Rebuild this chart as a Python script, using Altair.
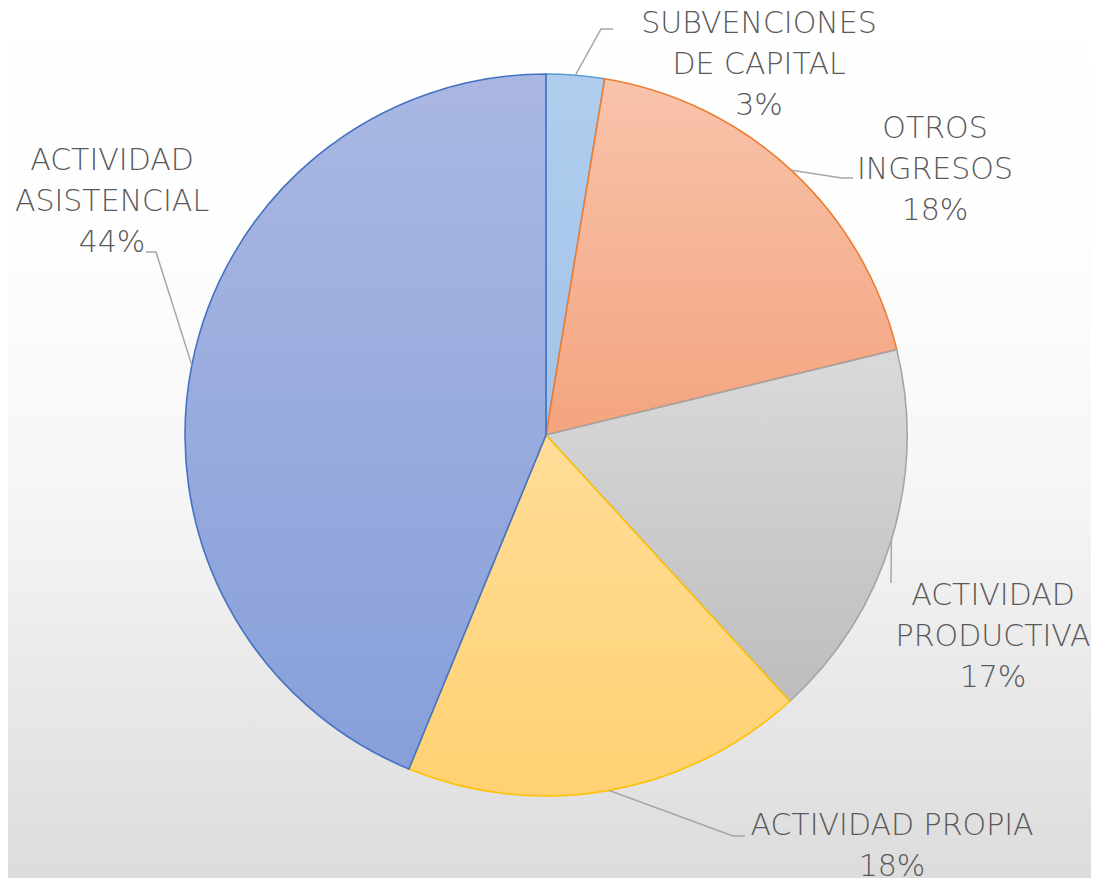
import math
import altair as alt
import pandas as pd

# ---- data ----
categories = ["SUBVENCIONES DE CAPITAL", "OTROS INGRESOS", "ACTIVIDAD PRODUCTIVA",
              "ACTIVIDAD PROPIA", "ACTIVIDAD ASISTENCIAL"]
display_names = ["SUBVENCIONES\nDE CAPITAL", "OTROS\nINGRESOS", "ACTIVIDAD\nPRODUCTIVA",
                 "ACTIVIDAD PROPIA", "ACTIVIDAD\nASISTENCIAL"]
values = [2.6, 18.6, 17.0, 18.0, 43.8]
pct_labels = ["3%", "18%", "17%", "18%", "44%"]

# ---- layout / styles ----
W, H = 1083, 870
OFF = 8  # page margin
CX, CY, R = 546 - OFF, 435 - OFF, 361

fills = [
    ("#B0CDEE", "#A3C3E8"),
    ("#F8C3AB", "#F4A47F"),
    ("#DADADA", "#BDBDBD"),
    ("#FFDD98", "#FFD172"),
    ("#AAB7E2", "#879FDA"),
]
strokes = ["#5B9BD5", "#ED7D31", "#A5A5A5", "#FFC000", "#4472C4"]

# label first-line centres and leader elbows (page coords)
label_pos = [(759, 24), (935, 129), (993, 596), (892, 826), (112, 161)]
leader_elbow = [[(601, 29), (613, 29)],
                [(842, 178), (853, 178)],
                [(891, 583), (891, 583)],
                [(733, 836), (745, 836)],
                [(156, 252), (146, 252)]]

total = sum(values)
start, acc = [], 0.0
for v in values:
    start.append(acc)
    acc += v
end = [s + v for s, v in zip(start, values)]

pie_df = pd.DataFrame({"cat": categories, "start": start, "end": end})

label_df = pd.DataFrame({
    "cat": categories,
    "text": [n + "\n" + p for n, p in zip(display_names, pct_labels)],
    "x": [p[0] - OFF for p in label_pos],
    "y": [p[1] - OFF for p in label_pos],
})

rows = []
for i, c in enumerate(categories):
    mid = (start[i] + values[i] / 2) / total * 2 * math.pi
    ax = CX + R * math.sin(mid)
    ay = CY - R * math.cos(mid)
    pts = [(ax, ay)] + [(px - OFF, py - OFF) for px, py in leader_elbow[i]]
    for k, (px, py) in enumerate(pts):
        rows.append({"cat": c, "ord": k, "x": px, "y": py})
leader_df = pd.DataFrame(rows)

def vgrad(stops):
    return {"gradient": "linear", "x1": 0, "y1": 0, "x2": 0, "y2": 1,
            "stops": [{"offset": o, "color": c} for o, c in stops]}

bg = alt.Chart(pd.DataFrame({"a": [0]})).mark_rect(
    fill=vgrad([(0, "#FFFFFF"), (0.25, "#FEFEFE"), (0.55, "#F6F6F6"), (1, "#DCDCDC")])
).encode(x=alt.value(0), x2=alt.value(W), y=alt.value(0), y2=alt.value(H))

layers = [bg]
for i, c in enumerate(categories):
    arc = alt.Chart(pie_df).transform_filter(
        alt.datum.cat == c
    ).mark_arc(
        fill=vgrad([(0, fills[i][0]), (1, fills[i][1])]),
        stroke=strokes[i], strokeWidth=1.6, outerRadius=R,
    ).encode(
        theta=alt.Theta("start:Q", scale=alt.Scale(domain=[0, total])),
        theta2="end:Q",
        x=alt.value(CX), y=alt.value(CY),
    )
    layers.append(arc)

leaders = alt.Chart(leader_df).mark_line(color="#A6A6A6", strokeWidth=1.5).encode(
    x=alt.X("x:Q", scale=None), y=alt.Y("y:Q", scale=None),
    detail="cat:N", order="ord:Q",
)
labels = alt.Chart(label_df).mark_text(
    font="DejaVu Sans", fontWeight=200, fontSize=30, color="#595959",
    lineBreak="\n", lineHeight=41, align="center", baseline="middle",
).encode(x=alt.X("x:Q", scale=None), y=alt.Y("y:Q", scale=None), text="text:N")

layers += [leaders, labels]

chart = alt.layer(*layers).properties(
    width=W, height=H, padding=0, autosize=alt.AutoSizeParams(type="none"),
).configure_view(stroke=None).configure(background="#FFFFFF")

chart.save("out.html", embed_options={"renderer": "svg", "actions": False})
